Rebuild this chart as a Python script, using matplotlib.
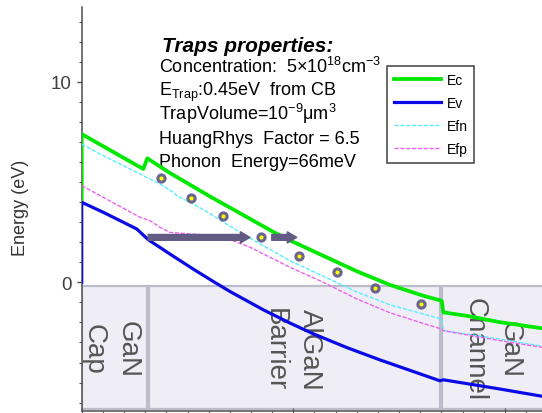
import matplotlib
matplotlib.use("Agg")
import matplotlib.pyplot as plt
from matplotlib.patches import Rectangle

plt.rcParams['font.family'] = ['Liberation Sans', 'DejaVu Sans']
plt.rcParams['mathtext.default'] = 'regular'

# band diagram (x in nm, energies in eV)
x_ec = [0.0, 0.0, 2.91, 3.10, 4.17, 6.16, 7.15, 9.04, 9.84, 11.42, 13.0, 14.57,
        16.14, 17.01, 17.09, 18.19, 19.77, 21.75]
ec = [4.07, 7.39, 5.65, 6.18, 5.45, 4.22, 3.64, 2.52, 2.09, 1.32, 0.55, -0.13,
      -0.67, -0.92, -1.50, -1.67, -1.99, -2.29]

x_ev = [0.0, 0.0, 1.02, 2.60, 3.15, 4.17, 5.27, 6.22, 7.01, 8.58, 9.84, 10.95,
        12.52, 14.10, 16.93, 17.09, 19.77, 21.75]
ev = [0.0, 3.99, 3.49, 2.66, 2.12, 1.41, 0.66, 0.04, -0.46, -1.37, -2.03, -2.57,
      -3.25, -3.87, -4.91, -4.86, -5.32, -5.68]

x_efn = [0.0, 0.86, 2.76, 3.07, 3.70, 4.31, 4.49, 5.12, 5.91, 6.85, 7.95, 9.84,
         11.42, 13.0, 14.57, 16.14, 17.01, 17.09, 18.19, 19.77, 21.75]
efn = [6.89, 6.40, 5.40, 5.23, 4.90, 4.50, 4.32, 3.99, 3.52, 2.90, 2.20, 1.08,
       0.30, -0.48, -1.12, -1.58, -1.83, -2.41, -2.58, -2.83, -3.19]

x_efp = [0.0, 2.76, 3.23, 3.70, 4.17, 5.12, 6.38, 7.16, 7.95, 9.84, 11.42, 13.0,
         14.57, 16.14, 17.01, 17.09, 19.77, 21.75]
efp = [4.82, 3.24, 3.07, 2.74, 2.49, 2.41, 2.32, 2.07, 1.75, 0.75, 0.0, -0.83,
       -1.52, -2.05, -2.33, -2.41, -2.91, -3.24]

# trap states in the barrier
trap_x = [3.73, 5.17, 6.66, 8.47, 10.26, 12.08, 13.86, 16.03]
trap_e = [5.20, 4.20, 3.32, 2.27, 1.30, 0.50, -0.30, -1.10]

# arrows (start, end) at a given energy
arrow_e = 2.24
arrow_start = [3.14, 8.98]
arrow_end = [7.95, 10.16]

# layers
layer_names = ["GaN\nCap", "AlGaN\nBarrier", "GaN\nChannel"]
layer_left = [0.0, 3.20, 17.03]
layer_right = [3.08, 16.93, 22.5]
layer_text_x = [1.36, 9.95, 19.39]
layer_top = -0.2
layer_bottom = -6.32

info_title = "Traps properties:"
info_lines = ["Concentration:  5×10$^{18}$cm$^{-3}$",
              "E$_{Trap}$:0.45eV  from CB",
              "TrapVolume=10$^{-9}$μm$^{3}$",
              "HuangRhys  Factor = 6.5",
              "Phonon  Energy=66meV"]
info_y = [10.5, 9.33, 8.12, 6.97, 5.80]

W, H = 542, 414
fig = plt.figure(figsize=(W / 100, H / 100), dpi=100)
ax = fig.add_axes([81.7 / W, 1.7 / H, (W - 81.7) / W, (412.3 - 8.3) / H])
ax.set_xlim(0, 21.75)
ax.set_ylim(-6.43, 13.71)

# layer boxes
for l, r, name, tx in zip(layer_left, layer_right, layer_names, layer_text_x):
    ax.add_patch(Rectangle((l, layer_bottom), r - l, layer_top - layer_bottom,
                           facecolor='#efeef6', edgecolor='#bdbccd', lw=1.6, zorder=1))
    ax.text(tx, -3.3, name, rotation=270, ha='center', va='center',
            multialignment='center', fontsize=20, color='#555555',
            linespacing=1.42, zorder=2)

ax.plot(x_ec, ec, color='#00e800', lw=2.7, label='Ec', zorder=4)
ax.plot(x_ev, ev, color='#0a0ae6', lw=2.3, label='Ev', zorder=4)
ax.plot(x_efn, efn, color='#55eeff', lw=1.0, ls=(0, (3, 1.2)), label='Efn', zorder=4)
ax.plot(x_efp, efp, color='#f060f0', lw=1.0, ls=(0, (3, 1.2)), label='Efp', zorder=4)

ax.plot(trap_x, trap_e, ls='none', marker='o', ms=5.2, mew=2.2,
        mfc='#ffff00', mec='#6a6590', zorder=5)

for xs, xe in zip(arrow_start, arrow_end):
    ax.annotate("", xy=(xe, arrow_e), xytext=(xs, arrow_e),
                arrowprops=dict(arrowstyle="simple,head_length=6.8,head_width=8,tail_width=4.2",
                                color='#625c84', shrinkA=0, shrinkB=0, mutation_scale=1),
                zorder=5)

# trap properties text
ax.text(3.78, 11.52, info_title, fontsize=15, fontweight='bold', fontstyle='italic',
        va='baseline', color='black')
for line, y in zip(info_lines, info_y):
    ax.text(3.67, y, line, fontsize=13, va='baseline', color='black')

leg = ax.legend(loc='upper left', bbox_to_anchor=(386.7 / W, 1 - 66.7 / H),
                bbox_transform=fig.transFigure, borderaxespad=0, fontsize=10,
                handlelength=3.4, handletextpad=0.4, labelspacing=0.66,
                borderpad=0.5, fancybox=False, framealpha=1)
leg.get_frame().set_edgecolor('#404040')
leg.get_frame().set_linewidth(1.1)

# axes styling
for side in ['top', 'right']:
    ax.spines[side].set_visible(False)
for side in ['left', 'bottom']:
    ax.spines[side].set_color('#505050')
    ax.spines[side].set_linewidth(1.1)

ax.set_yticks([0, 10])
ax.set_yticks(range(-6, 14), minor=True)
ax.set_xticks([0, 10, 20])
ax.set_xticks(range(0, 22), minor=True)
ax.set_xticklabels([])
ax.tick_params(axis='y', which='major', direction='out', length=3.5, width=1,
               colors='#505050', labelcolor='#404040', labelsize=13.5, pad=3.5)
ax.tick_params(axis='y', which='minor', direction='out', length=2, width=0.8, colors='#505050')
ax.tick_params(axis='x', which='major', direction='inout', length=5, width=0.8, colors='#505050')
ax.tick_params(axis='x', which='minor', direction='out', length=3, width=0.8, colors='#505050')

ax.set_ylabel("Energy (eV)", fontsize=13, color='#333333')
ax.yaxis.set_label_coords(-0.132, 0.506)
ax.yaxis.label.set_va('center')

fig.savefig("out.png", dpi=100)
